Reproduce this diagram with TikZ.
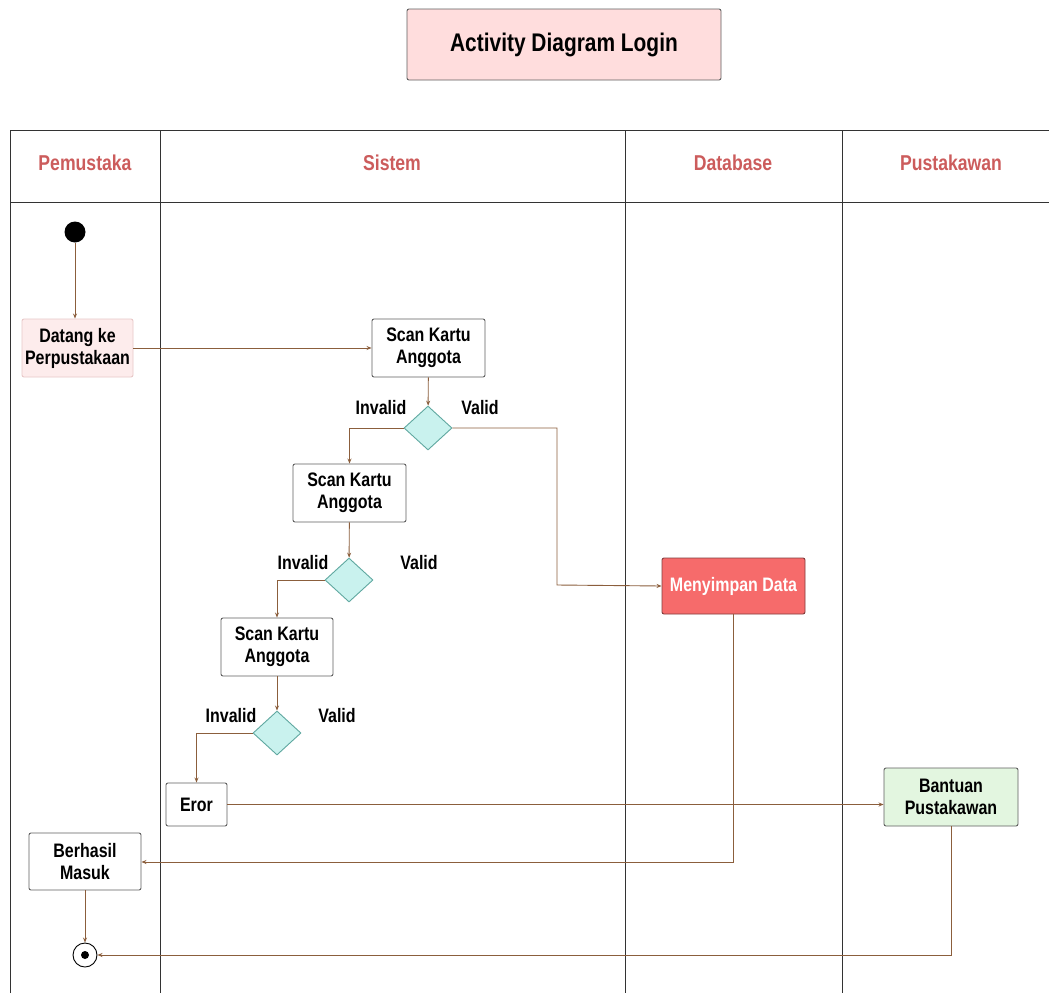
\documentclass[tikz,border=0pt]{standalone}
\usepackage{fontspec}
\setmainfont{Liberation Sans}[FakeStretch=0.82]
\usetikzlibrary{arrows.meta,shapes.geometric}
\definecolor{lanehead}{RGB}{204,92,92}
\definecolor{flow}{RGB}{139,94,60}
\definecolor{titlefill}{RGB}{255,221,221}
\definecolor{startfill}{RGB}{253,236,236}
\definecolor{startline}{RGB}{232,200,200}
\definecolor{decfill}{RGB}{201,242,238}
\definecolor{decline}{RGB}{95,168,160}
\definecolor{savefill}{RGB}{246,107,107}
\definecolor{saveline}{RGB}{130,60,60}
\definecolor{helpfill}{RGB}{227,246,224}
\definecolor{boxline}{RGB}{95,95,95}
\tikzset{
  lbl/.style={font=\bfseries\fontsize{19.5}{22}\selectfont, align=center, inner sep=0pt},
  actbox/.style={lbl, draw=boxline, fill=white, rounded corners=2pt, line width=0.9pt},
  decision/.style={diamond, draw=decline, fill=decfill, line width=0.9pt, inner sep=0pt, minimum width=48pt, minimum height=44pt},
  flowline/.style={draw=flow, line width=0.9pt, -{Stealth[length=5pt,width=4pt]}},
  lane/.style={draw=black!80, line width=0.8pt},
  headtext/.style={font=\bfseries\fontsize{21.5}{24}\selectfont, text=lanehead, inner sep=0pt},
}
\begin{document}
\begin{tikzpicture}[x=1pt,y=-1pt]
\useasboundingbox (0,0) rectangle (1049,993);
\fill[white] (0,0) rectangle (1049,993);

% title
\node[draw=boxline, fill=titlefill, rounded corners=2pt, line width=0.9pt,
      minimum width=314pt, minimum height=71pt, inner sep=0pt,
      font=\bfseries\fontsize{25.5}{28}\selectfont] (title) at (564,44.5) {Activity Diagram Login};

% swimlanes
\draw[lane] (10,993) -- (10,130) -- (1049,130);
\draw[lane] (10,202) -- (1049,202);
\draw[lane] (160,130) -- (160,993);
\draw[lane] (625,130) -- (625,993);
\draw[lane] (842,130) -- (842,993);
\node[headtext] (hPem) at (85,163) {Pemustaka};
\node[headtext] (hSis) at (392,163) {Sistem};
\node[headtext] (hDb) at (733,163) {Database};
\node[headtext] (hPus) at (951,163) {Pustakawan};

% start and end
\node[circle, fill=black, minimum size=21pt, inner sep=0pt] (start) at (75,232) {};
\node[circle, draw=black, fill=white, line width=0.9pt, minimum size=24pt, inner sep=0pt] (end) at (85,955) {};
\fill[black] (end.center) circle (4pt);

% activities
\node[actbox, draw=startline, fill=startfill, minimum width=111pt, minimum height=58pt] (datang) at (77.5,348) {Datang ke\\Perpustakaan};
\node[actbox, minimum width=113pt, minimum height=58pt] (scanA) at (428.5,348) {Scan Kartu\\Anggota};
\node[actbox, minimum width=113pt, minimum height=58pt] (scanB) at (349.5,493) {Scan Kartu\\Anggota};
\node[actbox, minimum width=112pt, minimum height=58pt] (scanC) at (277,647) {Scan Kartu\\Anggota};
\node[actbox, minimum width=61pt, minimum height=43pt] (eror) at (196.5,804.5) {Eror};
\node[actbox, fill=helpfill, minimum width=134pt, minimum height=58pt] (bantuan) at (951,797) {Bantuan\\Pustakawan};
\node[actbox, draw=saveline, fill=savefill, text=white, minimum width=143pt, minimum height=56pt] (simpan) at (733.5,586) {Menyimpan Data};
\node[actbox, minimum width=112pt, minimum height=57pt] (berhasil) at (85,861.5) {Berhasil\\Masuk};

% decisions
\node[decision] (decA) at (428,428) {};
\node[decision] (decB) at (349,580) {};
\node[decision] (decC) at (277,733) {};

% guard labels
\node[lbl] (invA) at (381,408) {Invalid};
\node[lbl] (valA) at (480,408) {Valid};
\node[lbl] (invB) at (303,563) {Invalid};
\node[lbl] (valB) at (419,563) {Valid};
\node[lbl] (invC) at (231,716) {Invalid};
\node[lbl] (valC) at (337,716) {Valid};

% flows
\draw[flowline] (start) -- (start |- datang.north);
\draw[flowline] (datang) -- (scanA);
\draw[flowline] (scanA) -- (decA);
\draw[flowline] (decA.west) -| (scanB.north);
\draw[flowline] (decA.east) -| (557,585) -- (simpan.west);
\draw[flowline] (scanB) -- (decB);
\draw[flowline] (decB.west) -| (scanC.north);
\draw[flowline] (scanC) -- (decC);
\draw[flowline] (decC.west) -| (eror.north);
\draw[flowline] (eror) -- (eror.east -| bantuan.west);
\draw[flowline] (simpan.south) |- (berhasil.east |- 0,862);
\draw[flowline] (berhasil) -- (end);
\draw[flowline] (bantuan.south) |- (end.east);
\end{tikzpicture}
\end{document}
